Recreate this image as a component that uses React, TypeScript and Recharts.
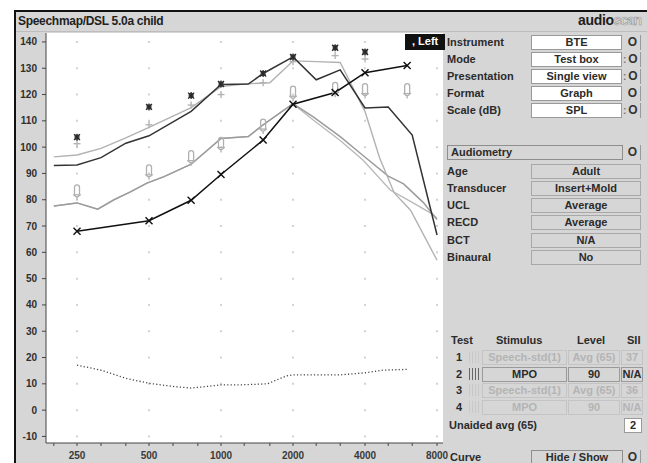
import { ComposedChart, Line, Scatter, XAxis, YAxis, ReferenceLine } from "recharts";

// axis ticks
const freqTicks = [200, 250, 315, 400, 500, 630, 800, 1000, 1250, 1600, 2000, 2500, 3150, 4000, 5000, 6300, 8000];
const freqLabels = [250, 500, 1000, 2000, 4000, 8000];
const levelTicks = [-10, 0, 10, 20, 30, 40, 50, 60, 70, 80, 90, 100, 110, 120, 130, 140];

// test 2: MPO (dark)
const mpoTest2 = [
  [200, 93], [250, 93.2], [315, 96], [400, 101.5], [500, 104.3], [750, 113.6], [1000, 123.8],
  [1300, 124], [1500, 128], [2000, 134.3], [2500, 125.6], [3150, 129.4], [4000, 114.9],
  [5000, 115.3], [6300, 104.6], [8000, 66.6],
];
// test 4: MPO (light)
const mpoTest4 = [
  [200, 96.3], [250, 97], [315, 99.5], [400, 103.5], [500, 107.5], [750, 115], [1000, 123],
  [1250, 124], [1600, 124.5], [2000, 132.8], [2500, 132.5], [3150, 132.2], [4000, 113.5],
  [4600, 96], [5300, 82.6], [6200, 76], [8000, 57],
];
// test 1 / test 3: speech-std(1) avg(65)
const speechTest1 = [
  [200, 77.6], [250, 78.8], [305, 76.4], [357, 80], [420, 83.1], [490, 86.3], [578, 88.8],
  [750, 93.5], [1000, 103.3], [1300, 104], [1500, 108.5], [2000, 116.5], [2430, 111.5],
  [3150, 104], [3900, 97], [5000, 89], [5800, 86], [7000, 79], [8000, 72.5],
];
const speechTest3 = [
  [200, 77.6], [250, 78.8], [305, 76.4], [357, 80], [420, 83.1], [490, 86.3], [578, 88.8],
  [750, 93.5], [1000, 103.3], [1300, 104], [1500, 108.5], [2000, 116.5], [2430, 110.3],
  [3150, 102.5], [3920, 95.1], [5100, 83.7], [6300, 79], [7500, 75], [8000, 73],
];
// thresholds (X)
const thresholds = [
  [250, 68], [500, 72], [750, 79.8], [1000, 89.6], [1500, 102.7], [2000, 116.3],
  [3000, 120.8], [4000, 128.3], [6000, 131],
];
// UCL (*)
const ucl = [
  [250, 103.8], [500, 115.3], [750, 119.6], [1000, 124], [1500, 128], [2000, 134.3],
  [3000, 137.8], [4000, 136.2],
];
// MPO targets (+)
const mpoTargets = [
  [250, 101.3], [500, 108.5], [750, 116], [1000, 120], [1500, 124.5], [2000, 132.5],
  [3000, 134.8], [4000, 133.5],
];
// speech targets
const speechTargets = [
  [250, 83], [500, 90.6], [750, 96], [1000, 101], [1500, 108], [2000, 120.5],
  [3000, 122], [4000, 121.5], [6000, 121.5],
];
// dotted curve
const dottedCurve = [
  [250, 17.1], [315, 15.2], [400, 12.1], [500, 10.2], [630, 9], [750, 8.4], [875, 9],
  [1000, 9.6], [1200, 9.6], [1560, 10], [1880, 13], [2000, 13.4], [3150, 13.4],
  [4000, 14.2], [4760, 15.2], [6000, 15.5],
];

// right panel
const settingLabels = ["Instrument", "Mode", "Presentation", "Format", "Scale (dB)"];
const settingValues = ["BTE", "Test box", "Single view", "Graph", "SPL"];
const audioLabels = ["Age", "Transducer", "UCL", "RECD", "BCT", "Binaural"];
const audioValues = ["Adult", "Insert+Mold", "Average", "Average", "N/A", "No"];
const testNums = ["1", "2", "3", "4"];
const testStimulus = ["Speech-std(1)", "MPO", "Speech-std(1)", "MPO"];
const testLevel = ["Avg (65)", "90", "Avg (65)", "90"];
const testSii = ["37", "N/A", "36", "N/A"];

const pts = (a: number[][]) => a.map(([f, v]) => ({ f, v }));

const font = "'Liberation Sans', Arial, sans-serif";

const XMark = (p: any) => {
  const { cx, cy } = p;
  if (cx == null || cy == null) return <g key={p.index} />;
  return (
    <g key={p.index} stroke="#111" strokeWidth={1.4}>
      <line x1={cx - 3.5} y1={cy - 3.5} x2={cx + 3.5} y2={cy + 3.5} />
      <line x1={cx - 3.5} y1={cy + 3.5} x2={cx + 3.5} y2={cy - 3.5} />
    </g>
  );
};

const StarMark = (p: any) => {
  const { cx, cy } = p;
  return (
    <g stroke="#2a2a2a" strokeWidth={1.3}>
      <rect x={cx - 2.5} y={cy - 2.5} width={5} height={5} fill="#444" stroke="none" />
      <line x1={cx - 3} y1={cy - 3} x2={cx + 3} y2={cy + 3} />
      <line x1={cx - 3} y1={cy + 3} x2={cx + 3} y2={cy - 3} />
      <line x1={cx} y1={cy - 3.5} x2={cx} y2={cy + 3.5} />
    </g>
  );
};

const PlusMark = (p: any) => {
  const { cx, cy } = p;
  return (
    <g stroke="#b4b4b4" strokeWidth={1.4}>
      <line x1={cx - 3.5} y1={cy} x2={cx + 3.5} y2={cy} />
      <line x1={cx} y1={cy - 3.5} x2={cx} y2={cy + 3.5} />
    </g>
  );
};

const CapsuleMark = (p: any) => {
  const { cx, cy } = p;
  return (
    <g stroke="#b0b0b0" strokeWidth={1.3} fill="none">
      <rect x={cx - 2.5} y={cy - 7} width={5} height={12} rx={2.5} />
      <line x1={cx - 4} y1={cy + 3} x2={cx + 4} y2={cy + 3} />
      <line x1={cx} y1={cy + 5} x2={cx} y2={cy + 8} />
    </g>
  );
};

const T = ({ x, y, s, color = "#2b2b2b", size = 11 }: any) => (
  <div
    style={{
      position: "absolute",
      left: x,
      top: y - 7,
      height: 14,
      lineHeight: "14px",
      fontSize: size,
      fontWeight: 700,
      color,
      whiteSpace: "nowrap",
      fontFamily: font,
    }}
  >
    {s}
  </div>
);

const Box = ({ x, y, w, s, bg = "#fff", color = "#2b2b2b", border = "#9a9a9a", align = "center" }: any) => (
  <div
    style={{
      position: "absolute",
      left: x,
      top: y - 7,
      width: w,
      height: 15,
      boxSizing: "border-box",
      background: bg,
      border: `1px solid ${border}`,
      lineHeight: "13px",
      fontSize: 11,
      fontWeight: 700,
      color,
      textAlign: align,
      paddingLeft: align === "left" ? 3 : 0,
      whiteSpace: "nowrap",
      overflow: "hidden",
      fontFamily: font,
    }}
  >
    {s}
  </div>
);

const Knob = ({ y, dots = true }: any) => (
  <div
    style={{
      position: "absolute",
      left: 623,
      top: y - 7,
      width: 18,
      height: 15,
      boxSizing: "border-box",
      borderRight: "1px solid #9a9a9a",
      fontSize: 12,
      fontWeight: 700,
      lineHeight: "15px",
      color: "#333",
      fontFamily: font,
    }}
  >
    <span style={{ color: "#777", fontSize: 10 }}>{dots ? ":" : "\u00a0"}</span>
    <span style={{ marginLeft: 2 }}>O</span>
  </div>
);

const settingRows = [42, 59, 76, 93, 110];
const audioRows = [171, 188, 205, 222, 240, 257];
const testRows = [357, 374, 390, 407];

export default function App() {
  return (
    <div style={{ position: "absolute", left: 0, top: 0, width: 647, height: 463, background: "#fff", overflow: "hidden" }}>
      <style>{".recharts-surface { overflow: visible; }"}</style>
      <div
        style={{
          position: "absolute",
          left: 14,
          top: 10,
          width: 633,
          height: 453,
          boxSizing: "border-box",
          borderLeft: "2px solid #111",
          borderTop: "2px solid #111",
          background: "#d6d6d6",
        }}
      />
      <div style={{ position: "absolute", left: 16, top: 31, width: 631, height: 1, background: "#bdbdbd" }} />
      <div style={{ position: "absolute", left: 18, top: 14, fontSize: 12, letterSpacing: -0.3, fontWeight: 700, color: "#222", fontFamily: font }}>
        Speechmap/DSL 5.0a child
      </div>
      <div style={{ position: "absolute", left: 578, top: 12, fontSize: 14, fontWeight: 700, fontFamily: font, whiteSpace: "nowrap" }}>
        <span style={{ color: "#1e1e1e", letterSpacing: -0.3 }}>audio</span>
        <span style={{ color: "#dcdcdc", letterSpacing: -1.2, WebkitTextStroke: "0.6px #9a9a9a" }}>scan</span>
      </div>

      <div style={{ position: "absolute", left: 46, top: 33, width: 397, height: 410, background: "#fff" }} />

      <div style={{ position: "absolute", left: 14, top: 32 }}>
        <ComposedChart width={432} height={431} margin={{ top: 1, right: 3, left: 0, bottom: 0 }}>
          <XAxis
            dataKey="f"
            type="number"
            scale="log"
            domain={[185.5, 8473]}
            allowDataOverflow
            ticks={freqTicks}
            interval={0}
            height={20}
            tickSize={3}
            tickMargin={6}
            tickFormatter={(v: number) => (freqLabels.includes(v) ? String(v) : "")}
            tick={{ fill: "#3a3a3a", fontSize: 10, fontWeight: 700, fontFamily: font }}
            stroke="#444"
          />
          <YAxis
            type="number"
            domain={[-12.5, 143.4]}
            allowDataOverflow
            ticks={levelTicks}
            interval={0}
            width={32}
            tickSize={4}
            tickMargin={5}
            tick={{ fill: "#2e2e2e", fontSize: 10, fontWeight: 700, fontFamily: font }}
            stroke="#444"
          />
          {levelTicks.map((v) => (
            <ReferenceLine
              key={v}
              y={v}
              stroke="#d2d2d2"
              strokeWidth={2}
              strokeDasharray="2 70"
              strokeDashoffset={42}
            />
          ))}
          <Line data={pts(dottedCurve)} dataKey="v" stroke="#444" strokeWidth={1.3} strokeDasharray="1.2 2.2" dot={false} isAnimationActive={false} />
          <Line data={pts(speechTest3)} dataKey="v" stroke="#b8b8b8" strokeWidth={1.3} dot={false} isAnimationActive={false} />
          <Line data={pts(speechTest1)} dataKey="v" stroke="#9c9c9c" strokeWidth={1.5} dot={false} isAnimationActive={false} />
          <Line data={pts(mpoTest4)} dataKey="v" stroke="#b2b2b2" strokeWidth={1.4} dot={false} isAnimationActive={false} />
          <Line data={pts(mpoTest2)} dataKey="v" stroke="#333" strokeWidth={1.5} dot={false} isAnimationActive={false} />
          <Scatter data={pts(speechTargets)} dataKey="v" shape={CapsuleMark} isAnimationActive={false} />
          <Scatter data={pts(mpoTargets)} dataKey="v" shape={PlusMark} isAnimationActive={false} />
          <Line data={pts(thresholds)} dataKey="v" stroke="#111" strokeWidth={1.5} dot={(p: any) => <XMark key={p.index} {...p} />} isAnimationActive={false} />
          <Scatter data={pts(ucl)} dataKey="v" shape={StarMark} isAnimationActive={false} />
        </ComposedChart>
      </div>

      <div style={{ position: "absolute", left: 405, top: 34, width: 40, height: 16, background: "#111" }} />
      <div style={{ position: "absolute", left: 412, top: 35, fontSize: 11, fontWeight: 700, color: "#fff", fontFamily: font }}>
        , Left
      </div>

      {settingLabels.map((s, i) => (
        <T key={s} x={447} y={settingRows[i]} s={s} />
      ))}
      {settingValues.map((s, i) => (
        <Box key={s} x={531} y={settingRows[i]} w={91} s={s} />
      ))}
      {settingRows.map((y, i) => (
        <Knob key={i} y={y} dots={i !== 0 && i !== 3} />
      ))}

      <Box x={447} y={152} w={176} s="Audiometry" bg="#d6d6d6" border="#8e8e8e" align="left" />
      <Knob y={152} dots={false} />
      {audioLabels.map((s, i) => (
        <T key={s} x={447} y={audioRows[i]} s={s} />
      ))}
      {audioValues.map((s, i) => (
        <Box key={i} x={531} y={audioRows[i]} w={110} s={s} bg="#d6d6d6" border="#a8a8a8" />
      ))}

      <T x={451} y={340} s="Test" />
      <T x={496} y={340} s="Stimulus" />
      <T x={577} y={340} s="Level" />
      <T x={627} y={340} s="SII" />
      {testNums.map((n, i) => {
        const on = i === 1;
        const c = on ? "#2b2b2b" : "#b4b4b4";
        const b = on ? "#9a9a9a" : "#c4c4c4";
        return (
          <div key={n}>
            <T x={456} y={testRows[i]} s={n} />
            <div
              style={{
                position: "absolute",
                left: 469,
                top: testRows[i] - 6,
                width: 11,
                height: 12,
                backgroundImage: `repeating-linear-gradient(90deg, ${on ? "#666" : "#c8c8c8"} 0 1px, transparent 1px 3px)`,
              }}
            />
            <Box x={482} y={testRows[i]} w={85} s={testStimulus[i]} bg="#d6d6d6" color={c} border={b} />
            <Box x={568} y={testRows[i]} w={52} s={testLevel[i]} bg="#d6d6d6" color={c} border={b} />
            <Box x={621} y={testRows[i]} w={22} s={testSii[i]} bg="#d6d6d6" color={c} border={b} />
          </div>
        );
      })}
      <T x={449} y={425} s="Unaided avg (65)" />
      <Box x={624} y={425} w={18} s="2" />

      <T x={450} y={457} s="Curve" />
      <Box x={531} y={457} w={92} s="Hide / Show" bg="#d6d6d6" border="#8e8e8e" />
      <Knob y={457} dots={false} />
    </div>
  );
}
